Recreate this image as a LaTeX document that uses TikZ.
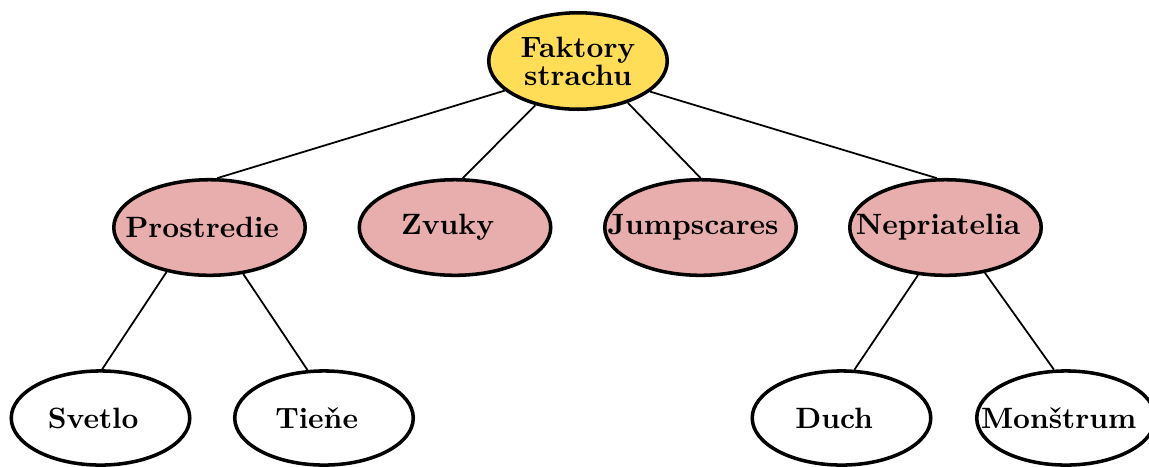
\documentclass[tikz,border=0pt]{standalone}
\usepackage{fontspec}
\usepackage{tikz}
\usetikzlibrary{shapes.geometric}

\definecolor{fearyellow}{RGB}{255,221,87}
\definecolor{factorpink}{RGB}{232,174,174}

\tikzset{
  factor/.style={ellipse, draw, very thick, inner sep=0pt, font=\bfseries},
  rootfactor/.style={factor, fill=fearyellow, align=center, minimum width=60.7pt, minimum height=32.8pt},
  mainfactor/.style={factor, fill=factorpink, minimum width=65.1pt, minimum height=32.5pt},
  subfactor/.style={factor, fill=white, minimum width=60.7pt, minimum height=32pt},
  branch/.style={semithick}
}
\newcommand{\flabel}[1]{\makebox[0pt]{#1\kern5pt}}

\begin{document}
\begin{tikzpicture}[x=0.34pt, y=-0.34pt]
  \useasboundingbox (0,0) rectangle (1149,466);

  \node[rootfactor] (fear) at (578,61) {Faktory\\[-2.5pt]strachu};

  \node[mainfactor] (prostr) at (209.5,227.5) {\flabel{Prostredie}};
  \node[mainfactor] (zvuky)  at (455,227.5)   {\flabel{Zvuky}};
  \node[mainfactor] (jump)   at (700.5,227.5) {\flabel{Jumpscares}};
  \node[mainfactor] (nepr)   at (945.5,227.5) {\flabel{Nepriatelia}};

  \node[subfactor] (svetlo)   at (100.5,418) {\flabel{Svetlo}};
  \node[subfactor] (tiene)    at (324,418)   {\flabel{Tieňe}};
  \node[subfactor] (duch)     at (841.5,418) {\flabel{Duch}};
  \node[subfactor] (monstrum) at (1066,418)  {\flabel{Monštrum}};

  \draw[branch] (fear.202) -- (prostr.81);
  \draw[branch] (fear.226) -- (zvuky.81);
  \draw[branch] (fear.320) -- (jump.90);
  \draw[branch] (fear.337) -- (nepr.100);

  \draw[branch] (prostr.226) -- (svetlo.88);
  \draw[branch] (prostr.306) -- (tiene.109);
  \draw[branch] (nepr.240) -- (duch.75);
  \draw[branch] (nepr.311) -- (monstrum.104);
\end{tikzpicture}
\end{document}
